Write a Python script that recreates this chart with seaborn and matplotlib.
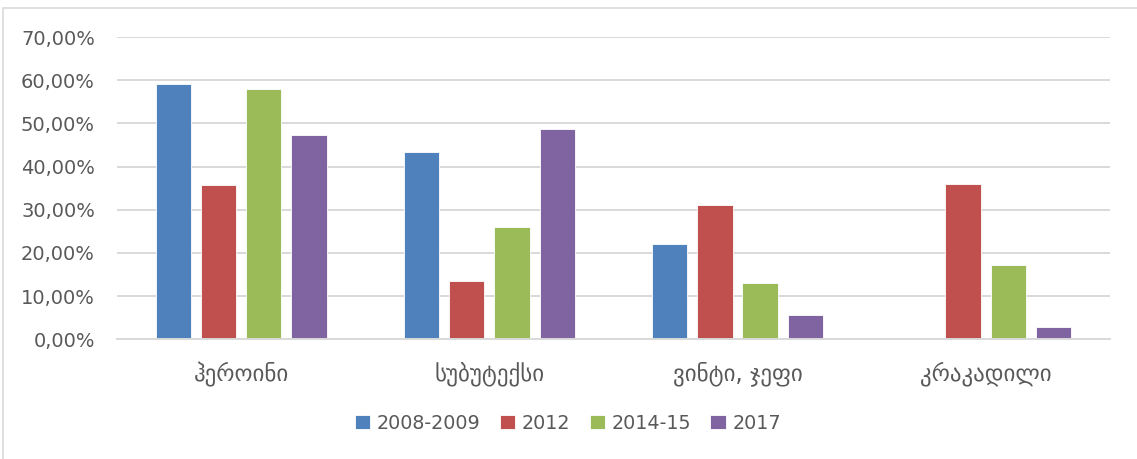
import matplotlib

matplotlib.use("Agg")

import matplotlib.pyplot as plt
import numpy as np
import pandas as pd
import seaborn as sns
from matplotlib.patches import Rectangle
from matplotlib.ticker import FuncFormatter, MultipleLocator


CATEGORIES = ["ჰეროინი", "სუბუტექსი", "ვინტი, ჯეფი", "კრაკადილი"]
PERIODS = ["2008-2009", "2012", "2014-15", "2017"]
VALUES_2008_2009 = [59.1, 43.3, 22.0, np.nan]
VALUES_2012 = [35.8, 13.4, 31.0, 35.9]
VALUES_2014_15 = [58.0, 25.9, 13.0, 17.2]
VALUES_2017 = [47.3, 48.7, 5.6, 2.9]
COLORS = ["#4F81BD", "#C0504D", "#9BBB59", "#8064A2"]


def build_frame() -> pd.DataFrame:
    """Собирает длинную таблицу для seaborn из отдельных рядов."""
    series = [VALUES_2008_2009, VALUES_2012, VALUES_2014_15, VALUES_2017]
    rows = []
    for period, values in zip(PERIODS, series):
        for category, value in zip(CATEGORIES, values):
            rows.append({"category": category, "period": period, "value": value})
    return pd.DataFrame(rows)


def main() -> None:
    data = build_frame()
    sns.set_style("white")
    plt.rcParams["font.family"] = ["DejaVu Sans"]

    fig = plt.figure(figsize=(11.37, 4.59), dpi=100)
    ax = fig.add_axes([0.103, 0.261, 0.873, 0.658])

    sns.barplot(
        data=data,
        x="category",
        y="value",
        hue="period",
        order=CATEGORIES,
        hue_order=PERIODS,
        palette=COLORS,
        width=0.73,
        gap=0.22,
        saturation=1,
        edgecolor="white",
        linewidth=0.6,
        ax=ax,
    )

    ax.set_ylim(0, 70)
    ax.set_xlim(-0.5, 3.5)
    ax.yaxis.set_major_locator(MultipleLocator(10))
    ax.yaxis.set_major_formatter(FuncFormatter(lambda v, _: f"{v:.2f}%".replace(".", ",")))
    ax.grid(axis="y", color="#d9d9d9", linewidth=1.4)
    ax.set_axisbelow(True)
    for side in ["left", "right", "top"]:
        ax.spines[side].set_visible(False)
    ax.spines["bottom"].set_color("#d9d9d9")
    ax.spines["bottom"].set_linewidth(1.4)
    ax.tick_params(axis="both", length=0, labelcolor="#595959")
    ax.tick_params(axis="x", labelsize=16.5, pad=16)
    ax.tick_params(axis="y", labelsize=14, pad=16)
    ax.set_xlabel("")
    ax.set_ylabel("")

    handles, labels = ax.get_legend_handles_labels()
    ax.legend_.remove()
    fig.legend(
        handles,
        labels,
        loc="center",
        bbox_to_anchor=(0.4996, 0.078),
        ncol=4,
        frameon=False,
        fontsize=13.8,
        labelcolor="#595959",
        handlelength=0.8,
        handleheight=0.8,
        handletextpad=0.35,
        columnspacing=1.0,
    )

    fig.patches.append(
        Rectangle((0.003, -0.05), 1.1, 1.032, transform=fig.transFigure,
                  fill=False, edgecolor="#d9d9d9", linewidth=1.2)
    )

    fig.savefig("out.png", dpi=100)
    plt.close(fig)


if __name__ == "__main__":
    main()
